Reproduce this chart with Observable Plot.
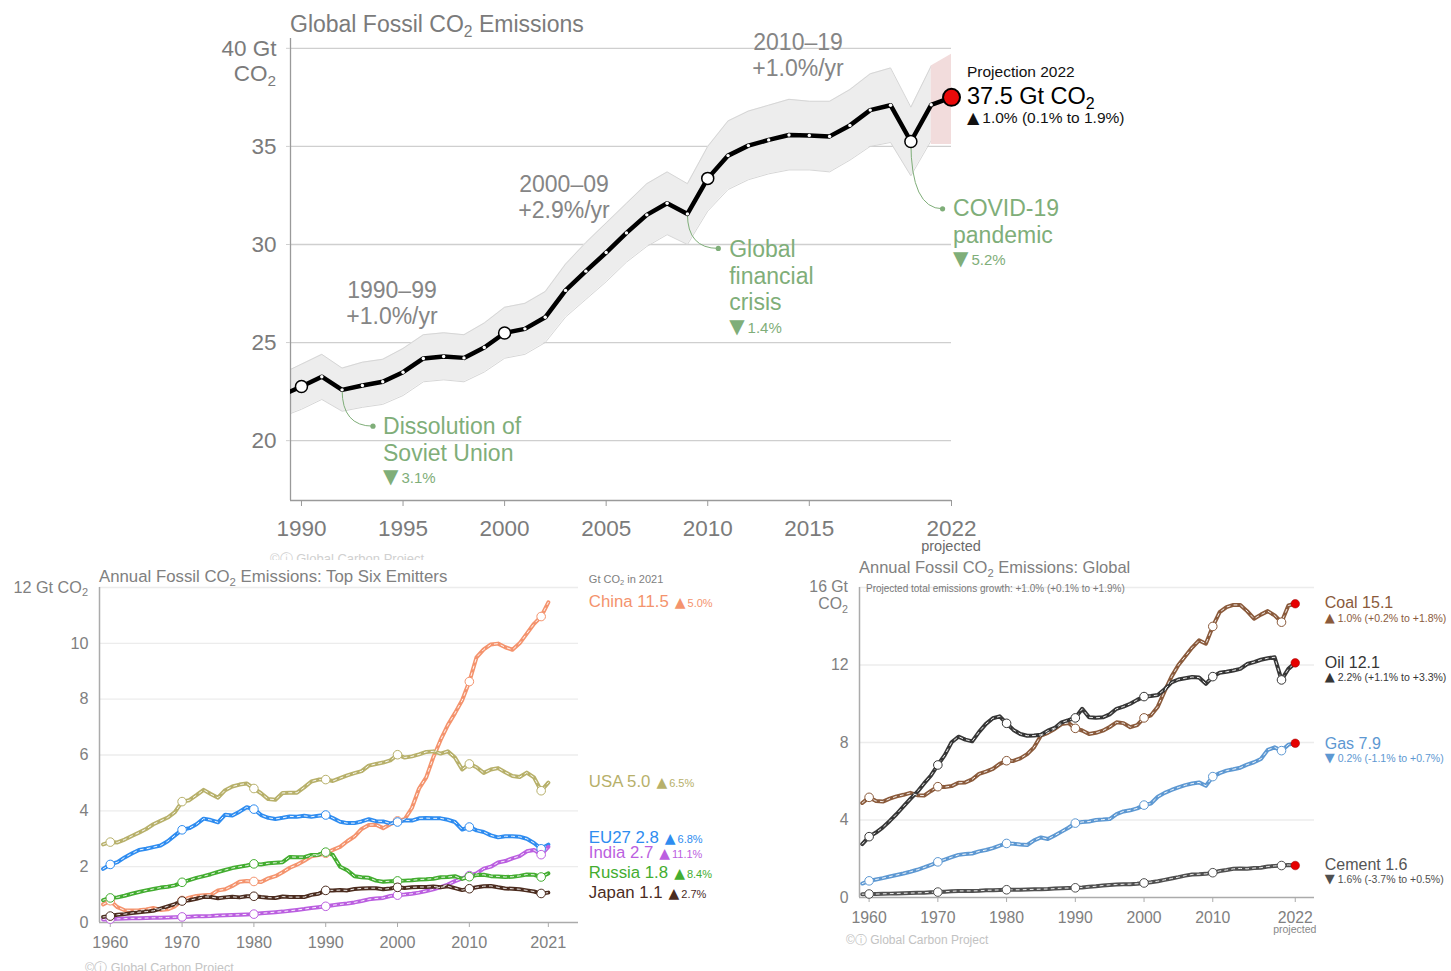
<!DOCTYPE html>
<html><head><meta charset="utf-8">
<script src="https://cdn.jsdelivr.net/npm/d3@7"></script>
<script src="https://cdn.jsdelivr.net/npm/@observablehq/plot@0.6"></script>
<style>
html,body{margin:0;padding:0;background:#fff;}
body{width:1451px;height:971px;overflow:hidden;position:relative;font-family:"Helvetica Neue",Helvetica,"Liberation Sans",Arial,sans-serif;}
.panel{position:absolute;}
</style></head><body>
<div id="top" class="panel" style="left:0;top:0"></div>
<div id="bl" class="panel" style="left:0;top:560px"></div>
<div id="br" class="panel" style="left:780px;top:560px"></div>
<script>
// ================= DATA =================
// --- Global fossil CO2 emissions (Gt CO2), 1989–2022 (2022 projected)
const globalStart = 1989;
const globalEmissions = [22.3, 22.76, 23.26, 22.59, 22.81, 23.0, 23.49, 24.19, 24.29, 24.22, 24.75,
  25.49, 25.70, 26.29, 27.66, 28.64, 29.59, 30.59, 31.51, 32.10, 31.56,
  33.37, 34.53, 35.04, 35.33, 35.58, 35.56, 35.51, 36.07, 36.85, 37.10,
  35.25, 37.12, 37.5];
// uncertainty band 1989–2021
const bandLow = [21.2, 21.6, 22.1, 21.5, 21.7, 21.85, 22.3, 23.0, 23.1, 23.0, 23.5,
  24.2, 24.4, 25.0, 26.3, 27.2, 28.1, 29.1, 29.9, 30.5, 30.0,
  31.7, 32.8, 33.3, 33.6, 33.8, 33.8, 33.7, 34.3, 35.0, 35.2, 33.5, 35.3];
const bandHigh = [23.4, 23.9, 24.4, 23.7, 24.0, 24.15, 24.7, 25.4, 25.5, 25.4, 26.0,
  26.8, 27.0, 27.6, 29.0, 30.1, 31.1, 32.1, 33.1, 33.7, 33.1,
  35.0, 36.3, 36.8, 37.1, 37.4, 37.3, 37.3, 37.9, 38.7, 39.0, 37.0, 39.1];
const projYears = [2021, 2022];
const projLow = [35.1, 35.1];
const projHigh = [39.1, 39.7];
const topXTicks = [1990, 1995, 2000, 2005, 2010, 2015, 2022];
const topYTicks = [20, 25, 30, 35, 40];
const highlightYears = [1990, 2000, 2010, 2020];
const periods = [
  {lines: ["1990–99", "+1.0%/yr"], year: 1994.48, value: 27.65},
  {lines: ["2000–09", "+2.9%/yr"], year: 2002.95, value: 33.05},
  {lines: ["2010–19", "+1.0%/yr"], year: 2014.47, value: 40.32}
];
const events = [
  {lines: ["Dissolution of", "Soviet Union"], drop: "3.1%", year: 1992, dotYear: 1993.52, dotValue: 20.74, textYear: 1994.04, textValue: 20.72, dropValue: 18.07},
  {lines: ["Global", "financial", "crisis"], drop: "1.4%", year: 2009, dotYear: 2010.52, dotValue: 29.80, textYear: 2011.08, textValue: 29.76, dropValue: 25.72},
  {lines: ["COVID-19", "pandemic"], drop: "5.2%", year: 2020, dotYear: 2021.56, dotValue: 31.82, textYear: 2022.1, textValue: 31.82, dropValue: 29.22}
];

// --- Top six emitters (Gt CO2), 1959–2021
const emitterStart = 1959;
const countries = ["China", "USA", "EU27", "India", "Russia", "Japan"];
const countryColors = ["#f4936d", "#b7b06a", "#2e8cf0", "#bb5fe0", "#43ad30", "#4b2c1f"];
const china = [0.65, 0.78, 0.55, 0.44, 0.43, 0.44, 0.47, 0.52, 0.45, 0.47, 0.58,
  0.79, 0.89, 0.95, 0.98, 0.99, 1.15, 1.19, 1.31, 1.46, 1.49,
  1.47, 1.45, 1.58, 1.66, 1.80, 1.96, 2.07, 2.21, 2.37, 2.42,
  2.48, 2.60, 2.71, 2.91, 3.08, 3.35, 3.49, 3.50, 3.38, 3.52,
  3.64, 3.70, 4.10, 4.80, 5.20, 5.93, 6.54, 7.07, 7.50, 7.96,
  8.63, 9.50, 9.78, 9.96, 9.99, 9.86, 9.77, 10.0, 10.35, 10.7,
  10.96, 11.47];
const usa = [2.80, 2.88, 2.87, 2.97, 3.10, 3.22, 3.35, 3.52, 3.64, 3.76, 3.95,
  4.33, 4.38, 4.56, 4.75, 4.60, 4.47, 4.74, 4.87, 4.94, 4.98,
  4.80, 4.63, 4.42, 4.40, 4.64, 4.65, 4.65, 4.84, 5.05, 5.12,
  5.12, 5.07, 5.17, 5.27, 5.35, 5.42, 5.62, 5.68, 5.73, 5.81,
  6.01, 5.91, 5.95, 6.02, 6.11, 6.13, 6.05, 6.13, 5.91, 5.48,
  5.68, 5.56, 5.36, 5.48, 5.53, 5.38, 5.25, 5.21, 5.37, 5.20,
  4.72, 5.01];
const eu27 = [1.92, 2.08, 2.16, 2.33, 2.47, 2.60, 2.64, 2.70, 2.76, 2.91, 3.12,
  3.32, 3.38, 3.52, 3.72, 3.67, 3.59, 3.86, 3.83, 3.97, 4.13,
  4.06, 3.85, 3.75, 3.71, 3.75, 3.80, 3.79, 3.82, 3.79, 3.82,
  3.85, 3.74, 3.61, 3.56, 3.56, 3.62, 3.70, 3.63, 3.62, 3.55,
  3.60, 3.66, 3.65, 3.73, 3.74, 3.73, 3.73, 3.68, 3.60, 3.33,
  3.42, 3.30, 3.24, 3.12, 3.05, 3.09, 3.09, 3.07, 3.00, 2.85,
  2.64, 2.79];
const india = [0.11, 0.12, 0.13, 0.14, 0.15, 0.15, 0.16, 0.17, 0.17, 0.18, 0.19,
  0.20, 0.21, 0.22, 0.22, 0.23, 0.25, 0.26, 0.27, 0.28, 0.29,
  0.30, 0.33, 0.35, 0.37, 0.39, 0.42, 0.45, 0.48, 0.52, 0.55,
  0.58, 0.62, 0.65, 0.68, 0.72, 0.77, 0.83, 0.86, 0.88, 0.95,
  0.98, 1.00, 1.03, 1.07, 1.13, 1.19, 1.27, 1.36, 1.48, 1.58,
  1.68, 1.76, 1.93, 2.00, 2.15, 2.20, 2.30, 2.38, 2.55, 2.60,
  2.43, 2.71];
const russia = [0.80, 0.88, 0.90, 0.96, 1.03, 1.09, 1.15, 1.20, 1.25, 1.28, 1.33,
  1.44, 1.52, 1.60, 1.66, 1.73, 1.81, 1.88, 1.95, 2.00, 2.04,
  2.10, 2.08, 2.12, 2.14, 2.16, 2.35, 2.34, 2.34, 2.42, 2.43,
  2.52, 2.42, 2.00, 1.87, 1.66, 1.62, 1.60, 1.50, 1.46, 1.48,
  1.49, 1.50, 1.51, 1.54, 1.55, 1.57, 1.62, 1.63, 1.66, 1.56,
  1.64, 1.70, 1.71, 1.66, 1.65, 1.63, 1.64, 1.67, 1.72, 1.71,
  1.63, 1.76];
const japan = [0.20, 0.23, 0.28, 0.30, 0.34, 0.37, 0.39, 0.42, 0.50, 0.58, 0.66,
  0.77, 0.80, 0.85, 0.92, 0.91, 0.87, 0.90, 0.92, 0.90, 0.94,
  0.94, 0.91, 0.89, 0.88, 0.93, 0.91, 0.91, 0.91, 0.99, 1.03,
  1.15, 1.15, 1.16, 1.15, 1.20, 1.22, 1.23, 1.23, 1.19, 1.22,
  1.26, 1.24, 1.26, 1.27, 1.27, 1.29, 1.26, 1.30, 1.23, 1.16,
  1.21, 1.26, 1.30, 1.31, 1.26, 1.22, 1.21, 1.19, 1.15, 1.11,
  1.04, 1.07];
const emitter2021 = ["11.5", "5.0", "2.8", "2.7", "1.8", "1.1"];
const emitterGrowth = ["5.0%", "6.5%", "6.8%", "11.1%", "8.4%", "2.7%"];
const emitterLabelValue = [11.5, 5.04, 3.06, 2.51, 1.79, 1.07];
const emitterXTicks = [1960, 1970, 1980, 1990, 2000, 2010, 2021];
const emitterYTicks = [0, 2, 4, 6, 8, 10, 12];
const emitterMarkerYears = [1960, 1970, 1980, 1990, 2000, 2010, 2020];

// --- Global emissions by fuel (Gt CO2), 1959–2022 (2022 projected)
const fuelStart = 1959;
const fuels = ["Coal", "Oil", "Gas", "Cement"];
const fuelColors = ["#8a5a3b", "#363636", "#5d98d2", "#4f4f4f"];
const coal = [4.88, 5.17, 4.98, 4.95, 5.10, 5.22, 5.30, 5.40, 5.28, 5.26, 5.50,
  5.72, 5.70, 5.75, 5.92, 5.94, 6.10, 6.38, 6.50, 6.64, 6.90,
  7.06, 7.05, 7.18, 7.40, 7.75, 8.36, 8.50, 8.70, 8.95, 9.01,
  8.73, 8.62, 8.44, 8.50, 8.61, 8.80, 9.04, 9.00, 8.79, 8.90,
  9.27, 9.40, 9.85, 10.65, 11.40, 12.0, 12.45, 12.90, 13.27, 13.10,
  13.99, 14.73, 14.99, 15.10, 15.10, 14.78, 14.39, 14.60, 14.78, 14.56,
  14.21, 15.07, 15.16];
const oil = [2.76, 3.14, 3.35, 3.62, 3.95, 4.31, 4.70, 5.09, 5.45, 5.89, 6.30,
  6.84, 7.35, 8.01, 8.30, 8.15, 8.06, 8.55, 8.96, 9.25, 9.35,
  8.99, 8.65, 8.44, 8.35, 8.36, 8.40, 8.61, 8.75, 9.04, 9.15,
  9.27, 9.74, 9.30, 9.28, 9.30, 9.45, 9.74, 9.85, 10.0, 10.2,
  10.37, 10.40, 10.45, 10.75, 11.10, 11.25, 11.32, 11.38, 11.35, 11.03,
  11.40, 11.60, 11.65, 11.72, 11.80, 12.05, 12.15, 12.27, 12.35, 12.40,
  11.23, 11.80, 12.11];
const gas = [0.72, 0.86, 0.93, 1.00, 1.08, 1.16, 1.24, 1.33, 1.43, 1.55, 1.68,
  1.84, 1.96, 2.08, 2.20, 2.24, 2.27, 2.38, 2.45, 2.55, 2.68,
  2.79, 2.78, 2.74, 2.71, 2.95, 3.10, 3.02, 3.20, 3.40, 3.60,
  3.84, 3.90, 3.92, 4.00, 4.02, 4.05, 4.30, 4.44, 4.50, 4.60,
  4.77, 4.85, 5.20, 5.40, 5.55, 5.68, 5.80, 5.88, 5.94, 5.77,
  6.24, 6.42, 6.55, 6.62, 6.70, 6.86, 6.98, 7.15, 7.62, 7.75,
  7.58, 7.89, 7.96];
const cement = [0.17, 0.18, 0.18, 0.19, 0.20, 0.21, 0.22, 0.23, 0.24, 0.25, 0.27,
  0.28, 0.30, 0.32, 0.34, 0.34, 0.34, 0.35, 0.37, 0.38, 0.39,
  0.40, 0.40, 0.40, 0.41, 0.42, 0.43, 0.44, 0.46, 0.48, 0.49,
  0.50, 0.52, 0.55, 0.58, 0.62, 0.65, 0.67, 0.68, 0.69, 0.71,
  0.75, 0.79, 0.84, 0.91, 0.98, 1.05, 1.13, 1.19, 1.20, 1.22,
  1.28, 1.37, 1.42, 1.48, 1.50, 1.48, 1.52, 1.54, 1.60, 1.63,
  1.65, 1.68, 1.65];
const fuel2022 = ["15.1", "12.1", "7.9", "1.6"];
const fuelArrow = ["▲", "▲", "▼", "▼"];
const fuelGrowth = ["1.0% (+0.2% to +1.8%)", "2.2% (+1.1% to +3.3%)", "0.2% (-1.1% to +0.7%)", "1.6% (-3.7% to +0.5%)"];
const fuelLabelValue = [15.19, 12.13, 7.95, 1.71];
const fuelXTicks = [1960, 1970, 1980, 1990, 2000, 2010, 2022];
const fuelYTicks = [0, 4, 8, 12, 16];
const fuelMarkerYears = [1960, 1970, 1980, 1990, 2000, 2010, 2020];

// ================= HELPERS =================
const FONT = '"Helvetica Neue", Helvetica, "Liberation Sans", Arial, sans-serif';
const TRI = '"DejaVu Sans", sans-serif';
function rich(t, str, size) {
  const parts = String(str).split("₂");
  t.append("tspan").text(parts[0]);
  for (let i = 1; i < parts.length; i++) {
    t.append("tspan").attr("font-size", size * 0.68).attr("dy", size * 0.22).text("2");
    t.append("tspan").attr("dy", -size * 0.22).text(parts[i]);
  }
}
function label(g, x, y, str, size, fill, anchor = "start") {
  const t = g.append("text").attr("x", x).attr("y", y + 0.355 * size)
    .attr("font-size", size).attr("fill", fill).attr("text-anchor", anchor)
    .attr("font-family", FONT);
  rich(t, str, size);
  return t;
}
function tri(t, ch, size) {
  return t.append("tspan").attr("font-family", TRI).attr("font-size", size).text(ch);
}
// leader curve: leaves the point vertically, arrives at the label horizontally
function elbowCurve(context) {
  let pts = [];
  return {
    areaStart() {}, areaEnd() {},
    lineStart() { pts = []; },
    point(x, y) { pts.push([+x, +y]); },
    lineEnd() {
      const [a, b] = pts;
      context.moveTo(a[0], a[1]);
      context.quadraticCurveTo(a[0], b[1], b[0], b[1]);
    }
  };
}

// ================= TOP PANEL =================
(function () {
  const GRAY = "#7b7b7b", GREEN = "#7fae79";
  const data = globalEmissions.map((v, i) => ({year: globalStart + i, value: v}));
  const band = bandLow.map((lo, i) => ({year: globalStart + i, lo, hi: bandHigh[i]}));
  const proj = projYears.map((y, i) => ({year: y, lo: projLow[i], hi: projHigh[i]}));
  const ev = events.map(e => ({...e, start: globalEmissions[e.year - globalStart]}));
  const xDom = [1989.46, 2022], yDom = [16.95, 40.5];
  const last = data[data.length - 1];
  const chart = Plot.plot({
    width: 1200, height: 560, marginLeft: 290, marginRight: 249, marginTop: 38, marginBottom: 60,
    x: {domain: xDom}, y: {domain: yDom},
    style: {fontFamily: FONT, background: "transparent", overflow: "visible"},
    marks: [
      Plot.gridY(topYTicks, {stroke: "#cfcfcf", strokeOpacity: 1, strokeWidth: 1.3}),
      Plot.areaY(band, {x: "year", y1: "lo", y2: "hi", fill: "#ededed", clip: true}),
      Plot.lineY(band, {x: "year", y: "lo", stroke: "#d6d6d6", strokeWidth: 1, clip: true}),
      Plot.lineY(band, {x: "year", y: "hi", stroke: "#d6d6d6", strokeWidth: 1, clip: true}),
      Plot.areaY(proj, {x: "year", y1: "lo", y2: "hi", fill: "#f2dcdc"}),
      Plot.ruleX([xDom[0]], {stroke: "#9a9a9a", strokeWidth: 1.3}),
      Plot.ruleY([yDom[0]], {stroke: "#9a9a9a", strokeWidth: 1.3}),
      Plot.axisX(topXTicks, {label: null, tickSize: 6, tickPadding: 14, fontSize: 22.5, fill: GRAY, stroke: "#9a9a9a", tickFormat: d => String(d)}),
      Plot.axisY(topYTicks, {label: null, tickSize: 4, tickPadding: 10, fontSize: 22.5, fill: GRAY, stroke: "#cfcfcf", tickFormat: d => d === 40 ? "40 Gt" : String(d)}),
      Plot.link(ev, {x1: "year", y1: "start", x2: "dotYear", y2: "dotValue", stroke: GREEN, strokeWidth: 1, curve: elbowCurve}),
      Plot.dot(ev, {x: "dotYear", y: "dotValue", r: 2.6, fill: GREEN}),
      Plot.line(data, {x: "year", y: "value", stroke: "#000", strokeWidth: 4.5, clip: true}),
      Plot.dot(data.filter(d => d.year >= 1990 && d.year < 2022), {x: "year", y: "value", r: 1.7, fill: "#fff"}),
      Plot.dot(data.filter(d => highlightYears.includes(d.year)), {x: "year", y: "value", r: 6, fill: "#fff", stroke: "#000", strokeWidth: 1.5}),
      Plot.dot([last], {x: "year", y: "value", r: 8.5, fill: "#ea0a0a", stroke: "#000", strokeWidth: 2})
    ]
  });
  document.getElementById("top").appendChild(chart);
  const X = chart.scale("x").apply, Y = chart.scale("y").apply;
  const g = d3.select(chart).append("g");
  label(g, X(xDom[0]), 24, "Global Fossil CO₂ Emissions", 23, GRAY);
  label(g, X(xDom[0]) - 14, Y(40) + 25, "CO₂", 22.5, GRAY, "end");
  label(g, X(2022), 546, "projected", 14.5, "#6a6a6a", "middle");
  label(g, 270, 558, "©ⓘ Global Carbon Project", 13, "#d0d0d0");
  for (const p of periods) {
    p.lines.forEach((s, i) => label(g, X(p.year), Y(p.value) + i * 26, s, 23, "#858585", "middle"));
  }
  for (const e of events) {
    e.lines.forEach((s, i) => label(g, X(e.textYear), Y(e.textValue) + i * 26.7, s, 23, GREEN));
    const t = label(g, X(e.textYear), Y(e.dropValue), "", 15, GREEN);
    tri(t, "▼", 20);
    t.append("tspan").attr("dx", 3).text(e.drop);
  }
  const px = X(last.year) + 16, py = Y(last.value);
  label(g, px, py - 25, "Projection 2022", 15.5, "#111");
  label(g, px, py - 1, "37.5 Gt CO₂", 23.5, "#000");
  const t = label(g, px, py + 21, "", 15.5, "#111");
  tri(t, "▲", 16);
  t.append("tspan").attr("dx", 3).text("1.0% (0.1% to 1.9%)");
})();

// ================= BOTTOM LEFT: TOP SIX EMITTERS =================
(function () {
  const GRAY = "#808080";
  const series = [china, usa, eu27, india, russia, japan];
  const rows = countries.flatMap((c, k) => series[k].map((v, i) => ({country: c, year: emitterStart + i, value: v})));
  const xDom = [1958.5, 2025.2];
  const chart = Plot.plot({
    width: 780, height: 411, marginLeft: 99, marginRight: 202, marginTop: 27, marginBottom: 49,
    x: {domain: xDom}, y: {domain: [0, 12]},
    color: {domain: countries, range: countryColors},
    style: {fontFamily: FONT, background: "#fff", overflow: "visible"},
    marks: [
      Plot.gridY(emitterYTicks.filter(d => d > 0), {stroke: "#ececec", strokeOpacity: 1, strokeWidth: 1.3}),
      Plot.ruleX([xDom[0]], {stroke: "#ababab", strokeWidth: 1.5}),
      Plot.ruleY([0], {stroke: "#ababab", strokeWidth: 1.5}),
      Plot.axisX(emitterXTicks, {label: null, tickSize: 5, tickPadding: 9, fontSize: 16.2, fill: GRAY, stroke: "#ababab", tickFormat: d => String(d)}),
      Plot.axisY(emitterYTicks.filter(d => d < 12), {label: null, tickSize: 0, tickPadding: 11, fontSize: 16.2, fill: GRAY, tickFormat: d => String(d)}),
      Plot.line(rows, {x: "year", y: "value", z: "country", stroke: "country", strokeWidth: 4}),
      Plot.line(rows, {x: "year", y: "value", z: "country", stroke: "#fff", strokeWidth: 0.9, strokeDasharray: "3,4"}),
      Plot.dot(rows.filter(d => emitterMarkerYears.includes(d.year)), {x: "year", y: "value", stroke: "country", fill: "#fff", r: 4.3, strokeWidth: 1})
    ]
  });
  document.getElementById("bl").appendChild(chart);
  const X = chart.scale("x").apply, Y = chart.scale("y").apply;
  const g = d3.select(chart).append("g");
  label(g, X(xDom[0]), 16.5, "Annual Fossil CO₂ Emissions: Top Six Emitters", 16.8, GRAY);
  label(g, X(xDom[0]) - 11, Y(12), "12 Gt CO₂", 16.2, GRAY, "end");
  label(g, 85, 407.5, "©ⓘ Global Carbon Project", 12.5, "#c4c4c4");
  const lx = X(2021) + 41;
  label(g, lx, 19, "Gt CO₂ in 2021", 11, GRAY);
  countries.forEach((c, k) => {
    const t = label(g, lx, Y(emitterLabelValue[k]), c + " " + emitter2021[k], 16.8, countryColors[k]);
    tri(t, "▲", 14).attr("dx", 6);
    t.append("tspan").attr("font-size", 11).attr("dx", 2).text(emitterGrowth[k]);
  });
})();

// ================= BOTTOM RIGHT: GLOBAL BY FUEL =================
(function () {
  const GRAY = "#808080";
  const series = [coal, oil, gas, cement];
  const rows = fuels.flatMap((f, k) => series[k].map((v, i) => ({fuel: f, year: fuelStart + i, value: v})));
  const xDom = [1958.6, 2024.8];
  const chart = Plot.plot({
    width: 671, height: 411, marginLeft: 79, marginRight: 137, marginTop: 27, marginBottom: 74,
    x: {domain: xDom}, y: {domain: [0, 16]},
    color: {domain: fuels, range: fuelColors},
    style: {fontFamily: FONT, background: "#fff", overflow: "visible"},
    marks: [
      Plot.gridY(fuelYTicks.filter(d => d > 0), {stroke: "#ececec", strokeOpacity: 1, strokeWidth: 1.3}),
      Plot.ruleX([xDom[0]], {stroke: "#ababab", strokeWidth: 1.5}),
      Plot.ruleY([0], {stroke: "#ababab", strokeWidth: 1.5}),
      Plot.axisX(fuelXTicks, {label: null, tickSize: 5, tickPadding: 9, fontSize: 15.8, fill: GRAY, stroke: "#ababab", tickFormat: d => String(d)}),
      Plot.axisY(fuelYTicks.filter(d => d < 16), {label: null, tickSize: 0, tickPadding: 11, fontSize: 15.8, fill: GRAY, tickFormat: d => String(d)}),
      Plot.line(rows, {x: "year", y: "value", z: "fuel", stroke: "fuel", strokeWidth: 4}),
      Plot.line(rows, {x: "year", y: "value", z: "fuel", stroke: "#fff", strokeWidth: 0.9, strokeDasharray: "3,4"}),
      Plot.dot(rows.filter(d => fuelMarkerYears.includes(d.year)), {x: "year", y: "value", stroke: "fuel", fill: "#fff", r: 4.3, strokeWidth: 1}),
      Plot.dot(rows.filter(d => d.year === 2022), {x: "year", y: "value", fill: "#e60000", stroke: "#900", strokeWidth: 0.5, r: 4.3})
    ]
  });
  document.getElementById("br").appendChild(chart);
  const X = chart.scale("x").apply, Y = chart.scale("y").apply;
  const g = d3.select(chart).append("g");
  label(g, X(xDom[0]), 7.5, "Annual Fossil CO₂ Emissions: Global", 16.5, GRAY);
  label(g, X(xDom[0]) + 7, 28, "Projected total emissions growth: +1.0% (+0.1% to +1.9%)", 10, "#777");
  label(g, X(xDom[0]) - 11, Y(16) - 1, "16 Gt", 15.8, GRAY, "end");
  label(g, X(xDom[0]) - 11, Y(16) + 16.5, "CO₂", 15.8, GRAY, "end");
  label(g, X(2022), 369, "projected", 10.5, "#888", "middle");
  label(g, 66, 380, "©ⓘ Global Carbon Project", 12, "#c2c2c2");
  const lx = X(2022) + 30;
  fuels.forEach((f, k) => {
    const y = Y(fuelLabelValue[k]);
    label(g, lx, y, f + " " + fuel2022[k], 16, fuelColors[k] === "#4f4f4f" ? "#555" : fuelColors[k]);
    const t = label(g, lx, y + 15.5, "", 10.5, fuelColors[k]);
    tri(t, fuelArrow[k], 13);
    t.append("tspan").attr("dx", 3).text(fuelGrowth[k]);
  });
})();
</script>
</body></html>
